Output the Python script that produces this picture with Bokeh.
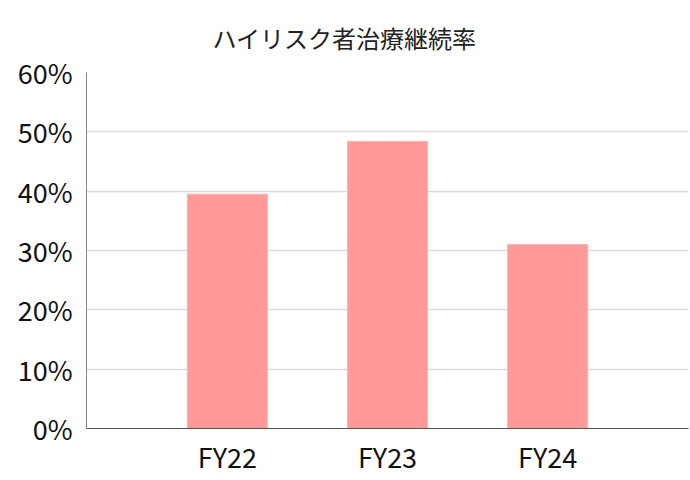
from bokeh.plotting import figure
from bokeh.models import FactorRange, Range1d, NumeralTickFormatter, FixedTicker, Title
from bokeh.embed import file_html
from bokeh.resources import INLINE

title_text = "ハイリスク者治療継続率"
categories = ["FY22", "FY23", "FY24"]
rates = [0.395, 0.484, 0.310]
y_ticks = [0, 0.1, 0.2, 0.3, 0.4, 0.5, 0.6]

FONT = "Noto Sans CJK JP"

p = figure(width=690, height=480, output_backend="svg", toolbar_location=None,
           x_range=FactorRange(*categories, range_padding=0.253),
           y_range=Range1d(0, 0.6), title=None,
           min_border_left=86, min_border_right=2, min_border_top=72, min_border_bottom=52)

t = Title(text=title_text, align="left", vertical_align="middle", text_font=FONT,
          text_font_size="24px", text_font_style="normal", text_color="#222222",
          offset=126, standoff=33)
p.add_layout(t, "above")

p.vbar(x=categories, top=rates, width=0.5, fill_color="#FF999A", line_color="#FFB0B0", line_width=1)

p.yaxis.ticker = FixedTicker(ticks=y_ticks)
p.yaxis.formatter = NumeralTickFormatter(format="0%")
for ax in (p.xaxis, p.yaxis):
    ax.major_label_text_font = FONT
    ax.major_label_text_font_size = "27px"
    ax.major_label_text_color = "#111111"
    ax.major_tick_line_color = None
    ax.minor_tick_line_color = None
p.yaxis.axis_line_color = "#888888"
p.xaxis.axis_line_color = "#555555"
p.yaxis.major_label_standoff = 8
p.xaxis.major_label_standoff = 2

p.xgrid.grid_line_color = None
p.ygrid.grid_line_color = "#dcdcdc"
p.ygrid.grid_line_width = 1.5
p.outline_line_color = None

open("out.html", "w").write(file_html(p, INLINE))
